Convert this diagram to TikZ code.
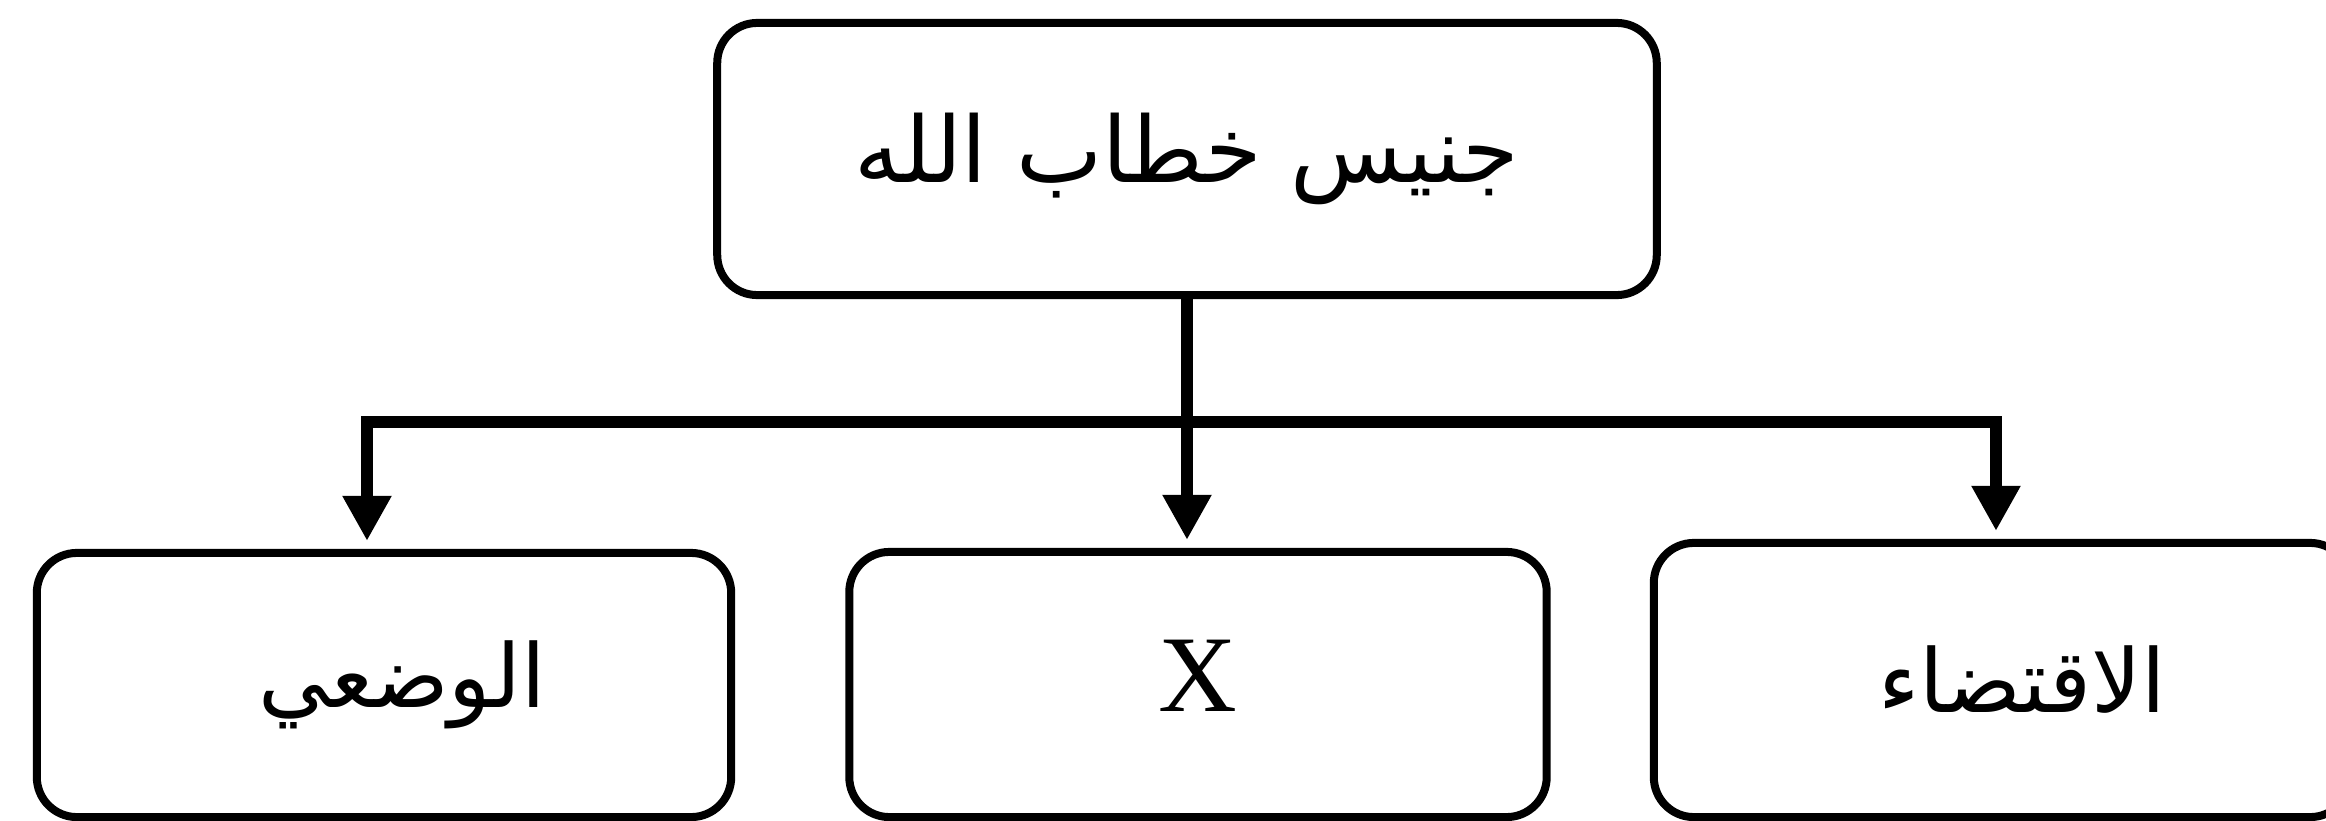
\documentclass[tikz,border=0pt]{standalone}
\usepackage{fontspec}
\setmainfont{Liberation Serif}
\newfontfamily\arabicfont[Script=Arabic]{DejaVu Sans}
\TeXXeTstate=1
\usetikzlibrary{arrows.meta,calc}
\begin{document}
\begin{tikzpicture}[x=0.01cm,y=-0.01cm,
  box/.style={draw, line width=0.08cm, rounded corners=0.4cm, inner sep=0pt, align=center},
  conn/.style={line width=0.12cm},
  arr/.style={conn, -{Triangle[length=0.45cm,width=0.46cm]}, shorten >=0.08cm},
  artop/.style={font=\arabicfont\fontsize{26}{32}\selectfont},
  arbot/.style={font=\arabicfont\fontsize{25}{32}\selectfont}]
\useasboundingbox (0,0) rectangle (2326,821);
\fill[white] (0,0) rectangle (2326,821);
\node[box, artop, minimum width=9.39cm, minimum height=2.72cm] (top) at (1187,159) {\raisebox{-0.17cm}{\beginR جنيس خطاب الله\endR}};
\node[box, arbot, minimum width=6.94cm, minimum height=2.64cm] (L) at (384,685) {\hspace*{0.36cm}\raisebox{-0.05cm}{\beginR الوضعي\endR}};
\node[box, minimum width=6.97cm, minimum height=2.65cm, font=\fontsize{31}{36}\selectfont] (M) at (1198,684.5) {\raisebox{0.18cm}{X}};
\node[box, arbot, minimum width=6.96cm, minimum height=2.74cm] (R) at (2002,680) {\hspace*{0.4cm}\raisebox{-0.1cm}{\beginR الاقتضاء\endR}};
\coordinate (bus) at ($(top.south)+(0,123)$);
\draw[arr] (top.south) -- (top.south |- M.north);
\draw[arr] (bus) -| ([xshift=-0.17cm]L.north);
\draw[arr] (bus) -| ([xshift=-0.06cm]R.north);
\end{tikzpicture}
\end{document}
